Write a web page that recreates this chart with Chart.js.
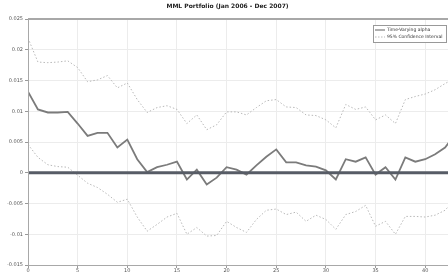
<!DOCTYPE html>
<html>
<head>
<meta charset="utf-8">
<script src="https://cdn.jsdelivr.net/npm/chart.js@4"></script>
<style>
  html, body { margin: 0; padding: 0; background: #fff; overflow: hidden; }
  #wrap { width: 448px; height: 273px; overflow: hidden; }
</style>
</head>
<body>
<div id="wrap"><canvas id="mmlChart" width="458" height="273"></canvas></div>
<script>
const chartTitle = 'MML Portfolio (Jan 2006 - Dec 2007)';
const seriesNames = ['Time-Varying alpha', '95% Confidence Interval'];

// one value per period
const alpha = [0.0132, 0.0103, 0.0098, 0.0098, 0.0099, 0.0080, 0.0060, 0.0065, 0.0065, 0.0041,
  0.0054, 0.0022, 0.0001, 0.0009, 0.0013, 0.0018, -0.0011, 0.0005, -0.0019, -0.0008,
  0.0009, 0.0005, -0.0003, 0.0012, 0.0026, 0.0038, 0.0017, 0.0017, 0.0012, 0.0010,
  0.0004, -0.0011, 0.0022, 0.0018, 0.0025, -0.0003, 0.0009, -0.0011, 0.0025, 0.0018,
  0.0022, 0.0030, 0.0041, 0.0062];
const upperCI = [0.0219, 0.0180, 0.0179, 0.0180, 0.0182, 0.0171, 0.0148, 0.0151, 0.0158, 0.0138,
  0.0146, 0.0119, 0.0098, 0.0106, 0.0109, 0.0103, 0.0080, 0.0094, 0.0070, 0.0078,
  0.0099, 0.0099, 0.0094, 0.0106, 0.0117, 0.0119, 0.0107, 0.0106, 0.0094, 0.0093,
  0.0086, 0.0073, 0.0111, 0.0103, 0.0107, 0.0086, 0.0094, 0.0080, 0.0119, 0.0124,
  0.0128, 0.0135, 0.0145, 0.0154];
const lowerCI = [0.0046, 0.0025, 0.0013, 0.0010, 0.0009, -0.0004, -0.0017, -0.0024, -0.0035, -0.0048,
  -0.0043, -0.0072, -0.0095, -0.0084, -0.0072, -0.0066, -0.0100, -0.0089, -0.0103, -0.0102,
  -0.0079, -0.0089, -0.0097, -0.0076, -0.0061, -0.0059, -0.0068, -0.0064, -0.0079, -0.0069,
  -0.0076, -0.0092, -0.0068, -0.0063, -0.0053, -0.0087, -0.0079, -0.0100, -0.0071, -0.0071,
  -0.0072, -0.0069, -0.0061, -0.0043];
const zeroLevel = [0, 0];

const xTicks = [0, 5, 10, 15, 20, 25, 30, 35, 40];
const yTicks = [-0.015, -0.01, -0.005, 0, 0.005, 0.01, 0.015, 0.02, 0.025];

const toPoints = arr => arr.map((v, i) => ({ x: i, y: v }));
const xMax = alpha.length - 1;

const lineColor = '#7b7b7b';
const ciColor = '#b8b8b8';

// matlab-ish box round the plot area
const boxPlugin = {
  id: 'box',
  afterDraw(chart) {
    const { ctx, chartArea: a } = chart;
    ctx.save();
    ctx.strokeStyle = '#a8a8a8';
    ctx.lineWidth = 1;
    ctx.strokeRect(a.left + 0.5, a.top + 0.5, a.right - a.left, a.bottom - a.top);
    ctx.lineWidth = 2;
    ctx.beginPath();
    ctx.moveTo(a.left, a.top);
    ctx.lineTo(a.right, a.top);
    ctx.stroke();
    ctx.restore();
  }
};

// legend box inside the upper right corner
const innerLegend = {
  id: 'innerLegend',
  afterDraw(chart) {
    const { ctx } = chart;
    const x0 = 373, y0 = 25, w = 73, h = 17;
    ctx.save();
    ctx.fillStyle = '#fff';
    ctx.fillRect(x0, y0, w, h);
    ctx.strokeStyle = '#999';
    ctx.lineWidth = 1;
    ctx.strokeRect(x0 + 0.5, y0 + 0.5, w, h);
    ctx.font = '4.5px "DejaVu Sans"';
    ctx.textBaseline = 'middle';
    const rows = [
      { label: chart.data.datasets[0].label, color: lineColor, dash: [], width: 1.2 },
      { label: chart.data.datasets[1].label, color: ciColor, dash: [1.5, 1.5], width: 1 }
    ];
    rows.forEach((r, i) => {
      const yy = y0 + 5 + i * 7;
      ctx.strokeStyle = r.color;
      ctx.lineWidth = r.width;
      ctx.setLineDash(r.dash);
      ctx.beginPath();
      ctx.moveTo(x0 + 2, yy);
      ctx.lineTo(x0 + 12, yy);
      ctx.stroke();
      ctx.setLineDash([]);
      ctx.fillStyle = '#333';
      ctx.fillText(r.label, x0 + 14, yy);
    });
    ctx.restore();
  }
};

new Chart(document.getElementById('mmlChart'), {
  type: 'line',
  data: {
    datasets: [
      {
        label: seriesNames[0],
        data: toPoints(alpha),
        borderColor: lineColor,
        borderWidth: 1.8,
        pointRadius: 0,
        tension: 0,
        order: 1
      },
      {
        label: seriesNames[1],
        data: toPoints(upperCI),
        borderColor: ciColor,
        borderWidth: 1,
        borderDash: [1.5, 2],
        pointRadius: 0,
        order: 2
      },
      {
        label: seriesNames[1] + ' (lower)',
        data: toPoints(lowerCI),
        borderColor: ciColor,
        borderWidth: 1,
        borderDash: [1.5, 2],
        pointRadius: 0,
        order: 2
      },
      {
        label: 'zero',
        data: [{ x: 0, y: zeroLevel[0] }, { x: xMax, y: zeroLevel[1] }],
        borderColor: '#575c66',
        borderWidth: 3,
        pointRadius: 0,
        order: 0
      }
    ]
  },
  options: {
    responsive: false,
    animation: false,
    layout: { padding: { left: 0, right: 3, top: 0, bottom: 0 } },
    plugins: {
      legend: { display: false },
      tooltip: { enabled: false },
      title: {
        display: true,
        text: chartTitle,
        color: '#222',
        font: { family: 'DejaVu Sans', size: 6, weight: 'bold' },
        padding: { top: 3, bottom: 8.8 }
      }
    },
    scales: {
      x: {
        type: 'linear',
        min: 0,
        max: xMax,
        afterBuildTicks: s => { s.ticks = xTicks.map(v => ({ value: v })); },
        afterFit: s => { s.height = 8; },
        grid: { color: '#ececec', lineWidth: 1, drawTicks: true, tickLength: 3, tickColor: '#999' },
        border: { display: false },
        ticks: {
          color: '#555',
          font: { family: 'DejaVu Sans', size: 5 },
          padding: 0,
          maxRotation: 0,
          autoSkip: false
        }
      },
      y: {
        min: -0.015,
        max: 0.025,
        afterBuildTicks: s => { s.ticks = yTicks.map(v => ({ value: v })); },
        afterFit: s => { s.width = 28; },
        grid: { color: '#ececec', lineWidth: 1, tickLength: 3, tickColor: '#999' },
        border: { display: false },
        ticks: {
          color: '#555',
          font: { family: 'DejaVu Sans', size: 5 },
          padding: 2,
          callback: v => String(+v.toFixed(3))
        }
      }
    }
  },
  plugins: [boxPlugin, innerLegend]
});
</script>
</body>
</html>
